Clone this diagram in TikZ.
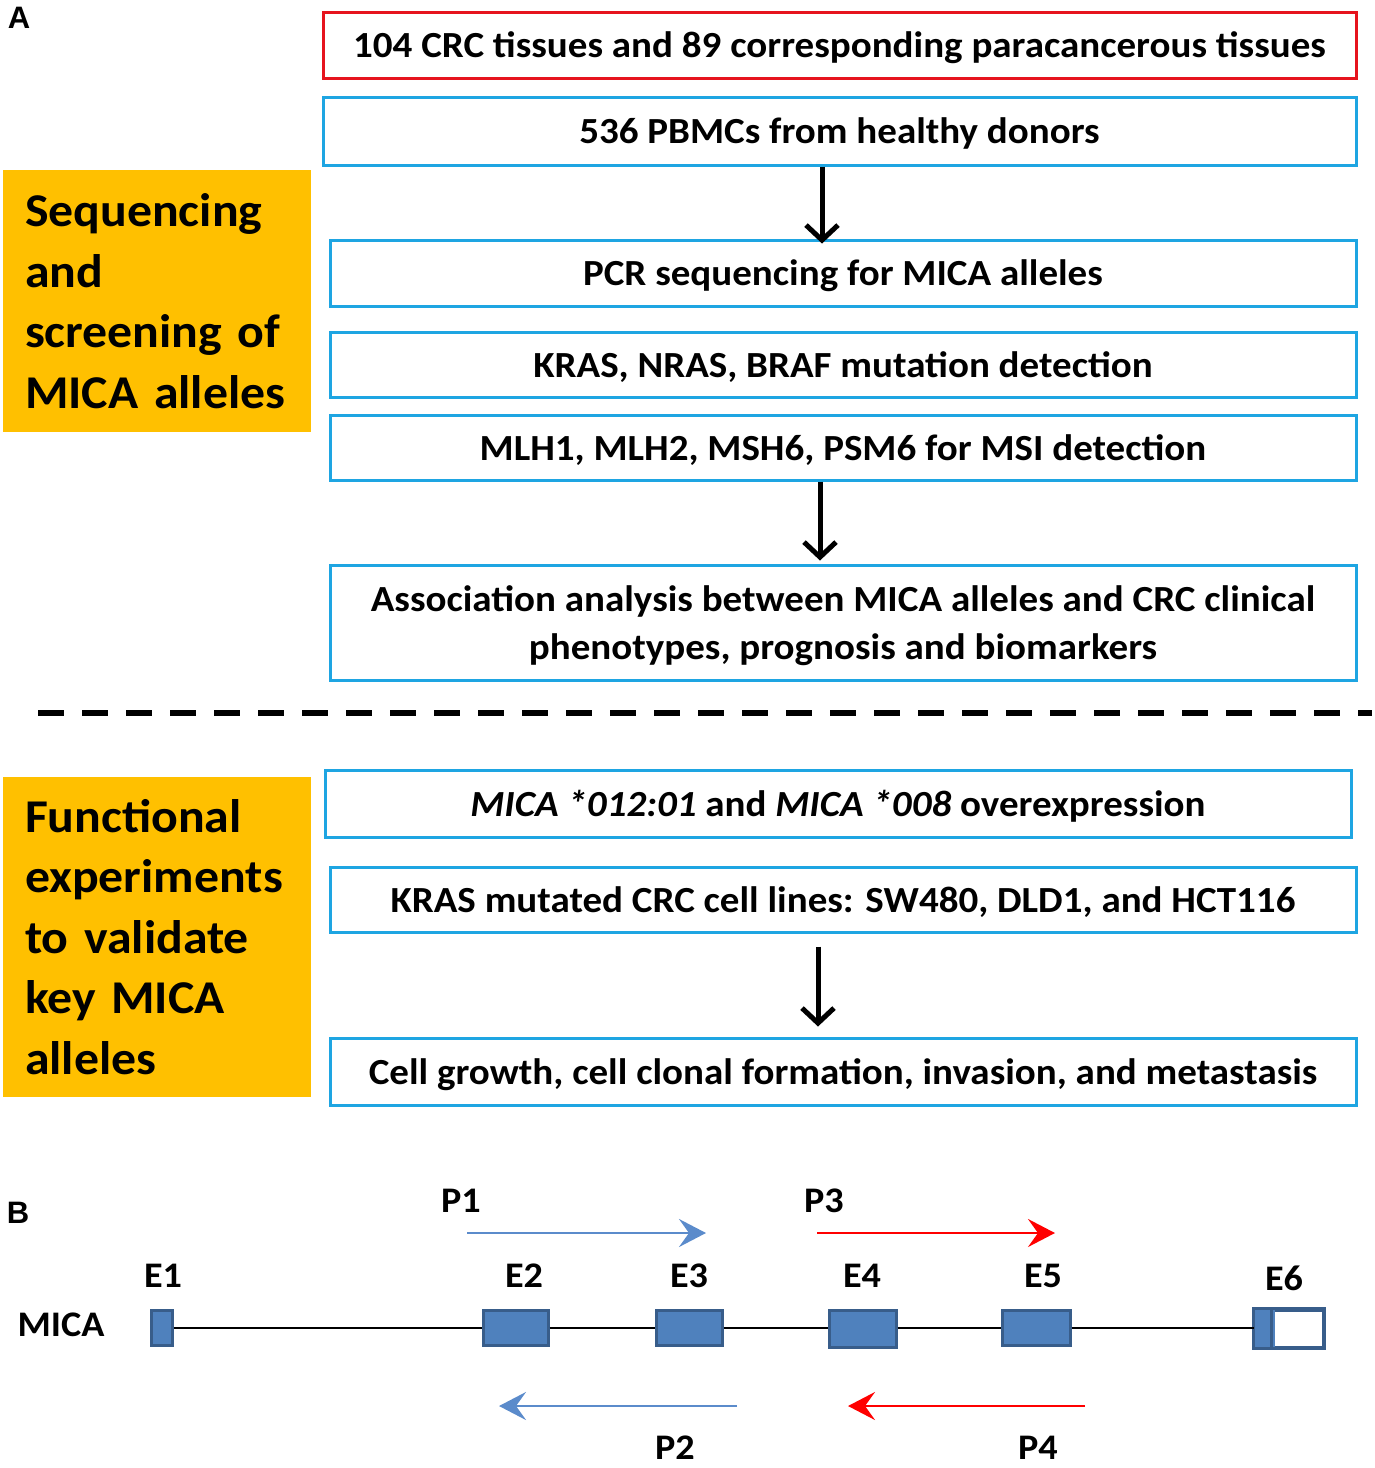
\documentclass[tikz,border=0pt]{standalone}
\usepackage{fontspec}
\setmainfont[FakeStretch=1.06]{Carlito}
\newfontfamily\arialfont{Liberation Sans}
\usetikzlibrary{arrows.meta}
\definecolor{boxblue}{RGB}{30,165,226}
\definecolor{boxred}{RGB}{230,20,30}
\definecolor{sideorange}{RGB}{255,192,0}
\definecolor{exonfill}{RGB}{79,129,189}
\definecolor{exonline}{RGB}{56,93,138}
\definecolor{primerblue}{RGB}{91,139,203}
\definecolor{primerred}{RGB}{255,0,0}
\begin{document}
\begin{tikzpicture}[x=1pt,y=-1pt,
  flowbox/.style={draw=boxblue, line width=3pt, inner sep=0pt, align=center, text depth=0pt,
    font=\bfseries\fontsize{36.8}{48}\selectfont},
  sidebox/.style={fill=sideorange, inner xsep=22pt, inner ysep=0pt, align=left,
    minimum width=308pt, text width=264pt,
    font=\bfseries\fontsize{47}{60.5}\selectfont},
  flowarrow/.style={black, line width=5pt, -{Straight Barb[length=15pt,width=32pt,line width=5pt]}},
  exon/.style={draw=exonline, fill=exonfill, line width=3pt, inner sep=0pt, minimum height=35pt},
  exlabel/.style={font=\bfseries\fontsize{36}{36}\selectfont, inner sep=0pt},
  primer/.style={line width=2.5pt, -{Stealth[length=27pt,width=28pt,inset=10pt]}},
  panel/.style={font=\arialfont\bfseries\fontsize{31}{31}\selectfont, inner sep=0pt}
]
\useasboundingbox (0,0) rectangle (1375,1468);

% panel letters
\node[panel] (A) at (19,18) {A};
\node[panel] (B) at (18,1213) {B};

% flow boxes, part 1
\node[flowbox, draw=boxred, minimum width=1033pt, minimum height=66pt] (b1) at (839.5,45) {104 CRC tissues and 89 corresponding paracancerous tissues};
\node[flowbox, minimum width=1033pt, minimum height=68pt] (b2) at (839.5,131) {536 PBMCs from healthy donors};
\node[flowbox, minimum width=1026pt, minimum height=66pt] (b3) at (843,273) {PCR sequencing for MICA alleles};
\node[flowbox, minimum width=1026pt, minimum height=65pt] (b4) at (843,364.5) {KRAS, NRAS, BRAF mutation detection};
\node[flowbox, minimum width=1026pt, minimum height=65pt] (b5) at (843,447.5) {MLH1, MLH2, MSH6, PSM6 for MSI detection};
\node[flowbox, minimum width=1026pt, minimum height=115pt] (b6) at (843,622.5) {Association analysis between MICA alleles and CRC clinical\\phenotypes, prognosis and biomarkers};

\node[sidebox, minimum height=262pt] (s1) at (157,301) {Sequencing\\and\\screening of\\MICA alleles};

\coordinate (x1) at (822,0);
\coordinate (x2) at (820,0);
\coordinate (x3) at (818,0);
\draw[flowarrow] (b2.south -| x1) -- ([yshift=-5pt]b3.north -| x1);
\draw[flowarrow] (b5.south -| x2) -- ([yshift=3pt]b6.north -| x2);

% dashed separator
\coordinate (d1) at (38,713);
\coordinate (d2) at (1372,713);
\draw[line width=5.5pt, dash pattern=on 26pt off 18pt] (d1) -- (d2);

% flow boxes, part 2
\node[flowbox, minimum width=1026pt, minimum height=67pt] (b7) at (838,803.5) {\textit{MICA *012:01} and \textit{MICA *008} overexpression};
\node[flowbox, minimum width=1026pt, minimum height=65pt] (b8) at (843,899.5) {KRAS mutated CRC cell lines: SW480, DLD1, and HCT116};
\node[flowbox, minimum width=1026pt, minimum height=67pt] (b9) at (843,1071.5) {Cell growth, cell clonal formation, invasion, and metastasis};

\node[sidebox, minimum height=320pt] (s2) at (157,937) {Functional\\experiments\\to validate\\key MICA\\alleles};

\draw[flowarrow] ([yshift=-13pt]b8.south -| x3) -- ([yshift=10pt]b9.north -| x3);

% panel B: gene
\node[exlabel] (mica) at (61,1325) {MICA};
\node[exon, minimum width=21pt] (e1) at (161.5,1328) {};
\node[exon, minimum width=65pt] (e2) at (515.5,1328) {};
\node[exon, minimum width=66pt] (e3) at (689,1328) {};
\node[exon, minimum width=67pt, minimum height=37pt] (e4) at (862.5,1328.5) {};
\node[exon, minimum width=68pt] (e5) at (1036,1328) {};
\node[exon, fill=white, minimum width=68pt, minimum height=37pt] (e6) at (1289,1328.5) {};
\fill[exonfill] ([shift={(1.5pt,-1.5pt)}]e6.south west) rectangle ([xshift=-50pt,yshift=1.5pt]e6.north east);
\draw[exonline, line width=3pt] ([xshift=18pt]e6.south west) -- ([xshift=18pt]e6.north west);
\draw[exonline, line width=3pt] (e6.south west) rectangle (e6.north east);

\draw[black, line width=2pt] (e1.east) -- (e1.east -| e2.west);
\draw[black, line width=2pt] (e2.east) -- (e2.east -| e3.west);
\draw[black, line width=2pt] (e3.east) -- (e3.east -| e4.west);
\draw[black, line width=2pt] (e4.east |- e1.east) -- (e1.east -| e5.west);
\draw[black, line width=2pt] (e5.east) -- (e5.east -| e6.west);

\node[exlabel] (l1) at (163,1276) {E1};
\node[exlabel] (l2) at (524,1276) {E2};
\node[exlabel] (l3) at (689,1276) {E3};
\node[exlabel] (l4) at (862,1276) {E4};
\node[exlabel] (l5) at (1043,1276) {E5};
\node[exlabel] (l6) at (1284,1278) {E6};

% primers
\node[exlabel] (p1) at (461,1201) {P1};
\node[exlabel] (p3) at (824,1201) {P3};
\node[exlabel] (p2) at (675,1448) {P2};
\node[exlabel] (p4) at (1038,1448) {P4};

\coordinate (p1a) at (467,1233);
\coordinate (p1b) at (706,1233);
\coordinate (p3a) at (817,1233);
\coordinate (p3b) at (1055,1233);
\coordinate (p2a) at (737,1406);
\coordinate (p2b) at (499,1406);
\coordinate (p4a) at (1085,1406);
\coordinate (p4b) at (848,1406);
\draw[primer, primerblue] (p1a) -- (p1b);
\draw[primer, primerred] (p3a) -- (p3b);
\draw[primer, primerblue] (p2a) -- (p2b);
\draw[primer, primerred] (p4a) -- (p4b);
\end{tikzpicture}
\end{document}
